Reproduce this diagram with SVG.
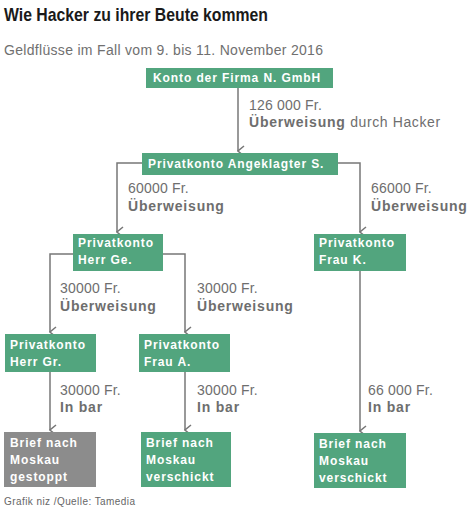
<svg xmlns="http://www.w3.org/2000/svg" width="473" height="511" viewBox="0 0 473 511">
<defs>
<marker id="arr" viewBox="0 0 12 8" refX="6" refY="7" markerWidth="12" markerHeight="8" markerUnits="userSpaceOnUse" orient="auto-start-reverse">
<path d="M1,1 L6,7 L11,1" fill="none" stroke="#777" stroke-width="1.5"/>
</marker>
<style>
.title{font-family:"Liberation Sans Narrow","Liberation Sans",Arial,sans-serif;font-weight:bold;font-size:19px;fill:#1a1a1a}
.sub{font-family:"Liberation Sans",Arial,sans-serif;font-size:14px;fill:#707070}
.g{fill:#52a57e}
.gr{fill:#8c8c8c}
.bt{font-family:"Liberation Sans",Arial,sans-serif;font-weight:bold;font-size:12px;fill:#fff;letter-spacing:0.9px}
.lab{font-family:"Liberation Sans",Arial,sans-serif;font-size:14px;fill:#6e6e6e;letter-spacing:0.2px}
.lb{font-weight:bold;letter-spacing:0.8px}
.dh{letter-spacing:0.6px}
.ln{fill:none;stroke:#777;stroke-width:1.5}
.foot{font-family:"Liberation Sans",Arial,sans-serif;font-size:10px;fill:#666}
</style>
</defs>
<text class="title" x="4" y="21" textLength="264" lengthAdjust="spacingAndGlyphs">Wie Hacker zu ihrer Beute kommen</text>
<text class="sub" x="4" y="55" textLength="319">Geldflüsse im Fall vom 9. bis 11. November 2016</text>

<g id="connectors">
<path class="ln" d="M238,88 V151" marker-end="url(#arr)"/>
<path class="ln" d="M142,163 H117 V232" marker-end="url(#arr)"/>
<path class="ln" d="M338,163 H360 V232" marker-end="url(#arr)"/>
<path class="ln" d="M73,254 H50 V332" marker-end="url(#arr)"/>
<path class="ln" d="M163,254 H185 V332" marker-end="url(#arr)"/>
<path class="ln" d="M50,372 V430" marker-end="url(#arr)"/>
<path class="ln" d="M185,372 V430" marker-end="url(#arr)"/>
<path class="ln" d="M360,271 V431" marker-end="url(#arr)"/>
</g>

<g id="labels">
<text class="lab" x="249" y="110">126 000 Fr.</text>
<text class="lab" x="249" y="127"><tspan class="lb">Überweisung</tspan><tspan class="dh"> durch Hacker</tspan></text>
<text class="lab" x="128" y="193">60000 Fr.</text>
<text class="lab lb" x="128" y="211">Überweisung</text>
<text class="lab" x="371" y="193">66000 Fr.</text>
<text class="lab lb" x="371" y="211">Überweisung</text>
<text class="lab" x="60" y="293">30000 Fr.</text>
<text class="lab lb" x="60" y="311">Überweisung</text>
<text class="lab" x="197" y="293">30000 Fr.</text>
<text class="lab lb" x="197" y="311">Überweisung</text>
<text class="lab" x="60" y="395">30000 Fr.</text>
<text class="lab lb" x="60" y="412">In bar</text>
<text class="lab" x="197" y="395">30000 Fr.</text>
<text class="lab lb" x="197" y="412">In bar</text>
<text class="lab" x="368" y="395">66 000 Fr.</text>
<text class="lab lb" x="368" y="412">In bar</text>
</g>

<g id="n1"><rect class="g" x="146" y="68" width="187" height="20"/><text class="bt" x="153" y="82">Konto der Firma N. GmbH</text></g>
<g id="n2"><rect class="g" x="142" y="153" width="196" height="22"/><text class="bt" x="148" y="168">Privatkonto Angeklagter S.</text></g>
<g id="n3"><rect class="g" x="73" y="234" width="90" height="37"/><text class="bt" x="78" y="247">Privatkonto</text><text class="bt" x="78" y="264">Herr Ge.</text></g>
<g id="n4"><rect class="g" x="314" y="234" width="92" height="37"/><text class="bt" x="319" y="247">Privatkonto</text><text class="bt" x="319" y="264">Frau K.</text></g>
<g id="n5"><rect class="g" x="5" y="334" width="91" height="38"/><text class="bt" x="10" y="349">Privatkonto</text><text class="bt" x="10" y="366">Herr Gr.</text></g>
<g id="n6"><rect class="g" x="139" y="334" width="91" height="38"/><text class="bt" x="144" y="349">Privatkonto</text><text class="bt" x="144" y="366">Frau A.</text></g>
<g id="n7"><rect class="gr" x="4" y="432" width="92" height="55"/><text class="bt" x="10" y="447">Brief nach</text><text class="bt" x="10" y="464">Moskau</text><text class="bt" x="10" y="481">gestoppt</text></g>
<g id="n8"><rect class="g" x="141" y="432" width="90" height="55"/><text class="bt" x="146" y="447">Brief nach</text><text class="bt" x="146" y="464">Moskau</text><text class="bt" x="146" y="481">verschickt</text></g>
<g id="n9"><rect class="g" x="314" y="433" width="92" height="55"/><text class="bt" x="319" y="448">Brief nach</text><text class="bt" x="319" y="465">Moskau</text><text class="bt" x="319" y="482">verschickt</text></g>

<text class="foot" x="4" y="505" textLength="131">Grafik niz /Quelle: Tamedia</text>
</svg>
